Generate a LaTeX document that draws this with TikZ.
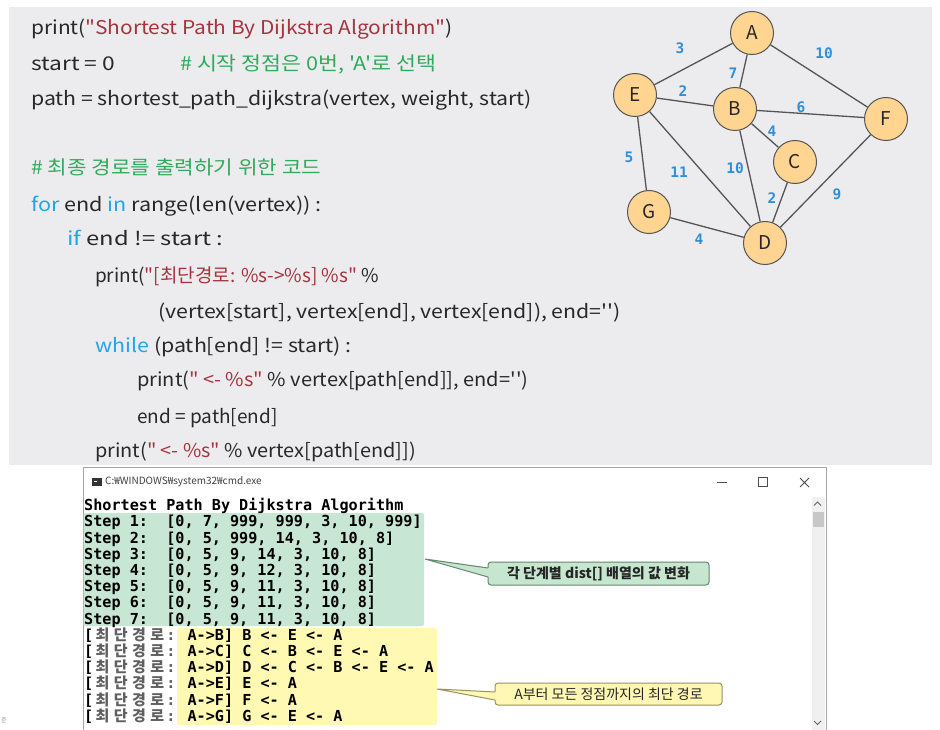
\documentclass[tikz,border=0pt]{standalone}
\usepackage{fontspec}
\usepackage{graphicx}
\newfontfamily\kr{Noto Sans CJK KR}
\newfontfamily\mono{DejaVu Sans Mono}
\definecolor{panel}{RGB}{236,236,239}
\definecolor{codefg}{RGB}{40,40,40}
\definecolor{str}{RGB}{165,52,62}
\definecolor{cmt}{RGB}{48,170,92}
\definecolor{kw}{RGB}{36,165,232}
\definecolor{nodefill}{RGB}{255,213,145}
\definecolor{nodeedge}{RGB}{85,85,85}
\definecolor{lbl}{RGB}{47,143,216}
\definecolor{greenhl}{RGB}{200,230,212}
\definecolor{yellowhl}{RGB}{255,249,180}
\definecolor{krgray}{RGB}{95,95,95}
\definecolor{cgfill}{RGB}{198,230,208}
\definecolor{cgline}{RGB}{100,135,110}
\definecolor{cyfill}{RGB}{255,247,179}
\definecolor{cyline}{RGB}{150,148,95}
\definecolor{winborder}{RGB}{165,165,165}
\newcommand\kc[1]{\makebox[18.24pt]{\kr\fontsize{15}{15}\selectfont\color{krgray}#1}}
\newcommand\sx[2]{\scalebox{#1}[1]{#2}}
\tikzset{
  codeline/.style={anchor=base west, inner sep=0pt, text=codefg, font=\kr\fontsize{19}{19}\selectfont},
  vert/.style={circle, draw=nodeedge, fill=nodefill, line width=1pt, minimum size=43pt, inner sep=0pt, text=black!85, font=\kr\fontsize{19}{19}\selectfont},
  edge/.style={draw=nodeedge, line width=1.3pt},
  elbl/.style={inner sep=0pt, text=lbl, font=\mono\bfseries\fontsize{14.5}{14}\selectfont},
  cons/.style={anchor=base west, inner sep=0pt, text=black, font=\mono\bfseries\fontsize{15.15}{15}\selectfont},
  callout/.style={rounded corners=3pt, line width=1pt, inner sep=0pt, font=\kr\fontsize{14}{14}\selectfont, text=black!85},
}
\begin{document}
\begin{tikzpicture}[x=1pt,y=-1pt]
\useasboundingbox (0,0) rectangle (940,730);
\fill[white] (0,0) rectangle (940,730);
\fill[panel] (9,7) rectangle (932,465);

% code
\node[codeline] (l1) at (31,35) {\sx{1.10}{print(\textcolor{str}{"Shortest Path By Dijkstra Algorithm"})}};
\node[codeline] (l2) at (31,71) {\sx{1.2}{start = 0}};
\node[codeline, text=cmt] (l2c) at (180,71) {\sx{1.14}{\# 시작 정점은 0번, 'A'로 선택}};
\node[codeline] (l3) at (31,106) {\sx{1.12}{path = shortest\_path\_dijkstra(vertex, weight, start)}};
\node[codeline, text=cmt] (l4) at (31,175) {\sx{1.12}{\# 최종 경로를 출력하기 위한 코드}};
\node[codeline] (l5) at (31,212) {\sx{1.137}{\textcolor{kw}{for} end \textcolor{kw}{in} range(len(vertex)) :}};
\node[codeline] (l6) at (67,246) {\sx{1.25}{\textcolor{kw}{if} end != start :}};
\node[codeline] (l7) at (95,283) {\sx{1.0}{print(\textcolor{str}{"[최단경로: \%s->\%s] \%s"} \%}};
\node[codeline] (l8) at (158,318) {\sx{1.12}{(vertex[start], vertex[end], vertex[end]), end='')}};
\node[codeline] (l9) at (95,352) {\sx{1.127}{\textcolor{kw}{while} (path[end] != start) :}};
\node[codeline] (l10) at (137,386) {\sx{1.054}{print(\textcolor{str}{" <- \%s"} \% vertex[path[end]], end='')}};
\node[codeline] (l11) at (137,423) {\sx{1.0}{end = path[end]}};
\node[codeline] (l12) at (95,457) {\sx{1.046}{print(\textcolor{str}{" <- \%s"} \% vertex[path[end]])}};

% graph
\node[vert] (A) at (752,33) {A};
\node[vert] (E) at (635,95) {E};
\node[vert] (B) at (735,109) {B};
\node[vert] (F) at (886,119) {F};
\node[vert] (C) at (795,162) {C};
\node[vert] (G) at (649,212) {G};
\node[vert] (D) at (765,243) {D};
\draw[edge] (A) -- (E);
\draw[edge] (A) -- (B);
\draw[edge] (A) -- (F);
\draw[edge] (E) -- (B);
\draw[edge] (B) -- (F);
\draw[edge] (B) -- (C);
\draw[edge] (E) -- (G);
\draw[edge] (E) -- (D);
\draw[edge] (B) -- (D);
\draw[edge] (C) -- (D);
\draw[edge] (F) -- (D);
\draw[edge] (G) -- (D);
\node[elbl] (wAE) at (680,48) {3};
\node[elbl] (wAF) at (824,53) {10};
\node[elbl] (wAB) at (733,73) {7};
\node[elbl] (wEB) at (683,91) {2};
\node[elbl] (wBF) at (801,107) {6};
\node[elbl] (wBC) at (772,131) {4};
\node[elbl] (wEG) at (629,157) {5};
\node[elbl] (wED) at (679,172) {11};
\node[elbl] (wBD) at (735,168) {10};
\node[elbl] (wCD) at (772,198) {2};
\node[elbl] (wFD) at (837,194) {9};
\node[elbl] (wGD) at (699,239) {4};

% console window
\draw[winborder, fill=white, line width=1pt] (83,467.5) rectangle (826,735);
\fill[black!80] (92,478) rectangle (102,486);
\fill[white] (93.5,481) rectangle (97,482);
\node[anchor=west, inner sep=0pt, text=black!75, font=\kr\fontsize{10}{10}\selectfont] (title) at (105,482) {C:₩WINDOWS₩system32₩cmd.exe};
\draw[black!70, line width=1pt] (717,482.5) -- (727,482.5);
\draw[black!70, line width=1pt] (758.5,477.5) rectangle (767.5,486.5);
\draw[black!70, line width=1pt] (800,478) -- (809,487) (809,478) -- (800,487);
% scrollbar
\fill[black!6] (812,497) rectangle (825,734);
\fill[black!22] (813,512) rectangle (824,527);
\draw[black!60, line width=0.9pt] (814,505.5) -- (817.5,502) -- (821,505.5);
\draw[black!60, line width=0.9pt] (814,721) -- (817.5,724.5) -- (821,721);

% highlights
\fill[greenhl, rounded corners=2pt] (83.5,513) rectangle (424,626);
\fill[yellowhl, rounded corners=2pt] (177,628) rectangle (437,725);

% console text
\node[cons] (s0) at (84,510.6) {Shortest Path By Dijkstra Algorithm};
\node[cons] (s1) at (84,526.8) {Step 1:\ \ [0, 7, 999, 999, 3, 10, 999]};
\node[cons] (s2) at (84,543.0) {Step 2:\ \ [0, 5, 999, 14, 3, 10, 8]};
\node[cons] (s3) at (84,559.2) {Step 3:\ \ [0, 5, 9, 14, 3, 10, 8]};
\node[cons] (s4) at (84,575.4) {Step 4:\ \ [0, 5, 9, 12, 3, 10, 8]};
\node[cons] (s5) at (84,591.6) {Step 5:\ \ [0, 5, 9, 11, 3, 10, 8]};
\node[cons] (s6) at (84,607.8) {Step 6:\ \ [0, 5, 9, 11, 3, 10, 8]};
\node[cons] (s7) at (84,624.0) {Step 7:\ \ [0, 5, 9, 11, 3, 10, 8]};
\node[cons] (p1) at (84,640.2) {[\kc{최}\kc{단}\kc{경}\kc{로}\textcolor{krgray}{:} A->B] B <- E <- A};
\node[cons] (p2) at (84,656.4) {[\kc{최}\kc{단}\kc{경}\kc{로}\textcolor{krgray}{:} A->C] C <- B <- E <- A};
\node[cons] (p3) at (84,672.6) {[\kc{최}\kc{단}\kc{경}\kc{로}\textcolor{krgray}{:} A->D] D <- C <- B <- E <- A};
\node[cons] (p4) at (84,688.8) {[\kc{최}\kc{단}\kc{경}\kc{로}\textcolor{krgray}{:} A->E] E <- A};
\node[cons] (p5) at (84,705.0) {[\kc{최}\kc{단}\kc{경}\kc{로}\textcolor{krgray}{:} A->F] F <- A};
\node[cons] (p6) at (84,721.2) {[\kc{최}\kc{단}\kc{경}\kc{로}\textcolor{krgray}{:} A->G] G <- E <- A};

% callouts
\node[callout, draw=cgline, fill=cgfill, minimum width=221pt, minimum height=23pt, font=\kr\bfseries\fontsize{14}{14}\selectfont] (cg) at (598.5,573.5) {각 단계별 dist[] 배열의 값 변화};
\coordinate (gtip) at (425,559);
\fill[cgfill] (gtip) -- ([xshift=1.5pt,yshift=5.5pt]cg.west) -- ([xshift=1.5pt,yshift=-3.5pt]cg.west) -- cycle;
\draw[cgline, line width=1pt] ([xshift=0.5pt,yshift=5.5pt]cg.west) -- (gtip) -- ([xshift=0.5pt,yshift=-3.5pt]cg.west);
\node[callout, draw=cyline, fill=cyfill, minimum width=227pt, minimum height=22pt] (cy) at (608.5,694) {A부터 모든 정점까지의 최단 경로};
\coordinate (ytip) at (437,689);
\fill[cyfill] (ytip) -- ([xshift=1.5pt,yshift=2pt]cy.west) -- ([xshift=1.5pt,yshift=-6pt]cy.west) -- cycle;
\draw[cyline, line width=1pt] ([xshift=0.5pt,yshift=2pt]cy.west) -- (ytip) -- ([xshift=0.5pt,yshift=-6pt]cy.west);

\node[anchor=west, inner sep=0pt, text=black!40, font=\kr\fontsize{6}{6}\selectfont] (frag) at (1,720) {준};
\end{tikzpicture}
\end{document}
